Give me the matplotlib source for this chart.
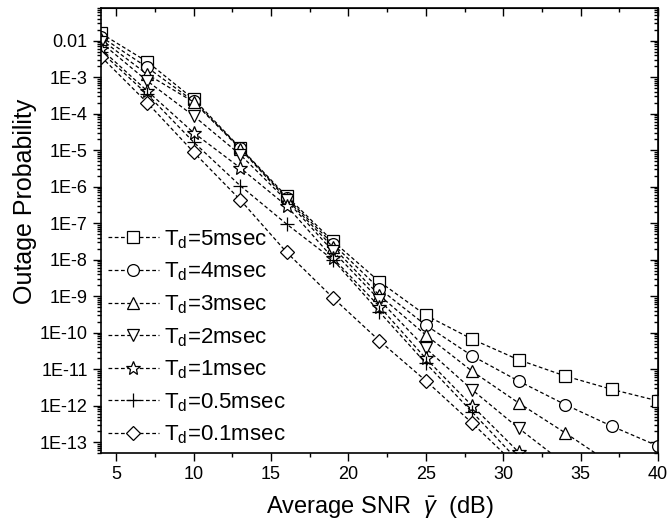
import matplotlib
matplotlib.use("Agg")
import matplotlib.pyplot as plt
from matplotlib.ticker import FixedLocator, FixedFormatter, LogLocator, NullFormatter, MultipleLocator

plt.rcParams['font.family'] = ['Liberation Sans', 'DejaVu Sans']
plt.rcParams['mathtext.fontset'] = 'custom'
plt.rcParams['mathtext.rm'] = 'Liberation Sans'
plt.rcParams['mathtext.it'] = 'Liberation Sans:italic'

# ---- data ----
snr = [4, 7, 10, 13, 16, 19, 22, 25, 28, 31, 34, 37, 40]

td5 = [0.016, 2.66e-3, 2.5e-4, 1.17e-5, 5.5e-7, 3.2e-8, 2.5e-9, 3.0e-10, 6.6e-11, 1.8e-11, 6.5e-12, 2.8e-12, 1.35e-12]
td4 = [0.013, 1.86e-3, 2.2e-4, 1.15e-5, 5.0e-7, 2.7e-8, 1.6e-9, 1.6e-10, 2.3e-11, 4.7e-12, 1.07e-12, 2.75e-13, 7.8e-14]
td3 = [0.011, 1.2e-3, 2.1e-4, 1.1e-5, 4.6e-7, 2.2e-8, 1.05e-9, 8.6e-11, 8.7e-12, 1.18e-12, 1.8e-13, 2.5e-14]
td2 = [0.009, 7.9e-4, 8.7e-5, 7.6e-6, 4.2e-7, 1.7e-8, 7.9e-10, 3.7e-11, 2.7e-12, 2.4e-13, 2.5e-14]
td1 = [0.006, 4.2e-4, 3.0e-5, 3.3e-6, 3.0e-7, 1.1e-8, 5.2e-10, 1.96e-11, 9.8e-13, 5.3e-14]
td05 = [0.005, 3.4e-4, 1.66e-5, 1.07e-6, 9.5e-8, 1.0e-8, 3.7e-10, 1.45e-11, 6.6e-13, 3.0e-14]
td01 = [0.0037, 2.0e-4, 8.8e-6, 4.4e-7, 1.6e-8, 9.0e-10, 6.0e-11, 4.8e-12, 3.3e-13, 2.0e-14]

series = [td5, td4, td3, td2, td1, td05, td01]
labels = ['T$_\\mathregular{d}$=5msec', 'T$_\\mathregular{d}$=4msec', 'T$_\\mathregular{d}$=3msec',
          'T$_\\mathregular{d}$=2msec', 'T$_\\mathregular{d}$=1msec', 'T$_\\mathregular{d}$=0.5msec',
          'T$_\\mathregular{d}$=0.1msec']
markers = ['s', 'o', '^', 'v', '*', '+', 'D']
msizes = [8, 8.5, 9, 9, 10, 10, 7]

ytick_vals = [1e-2, 1e-3, 1e-4, 1e-5, 1e-6, 1e-7, 1e-8, 1e-9, 1e-10, 1e-11, 1e-12, 1e-13]
ytick_labels = ['0.01', '1E-3', '1E-4', '1E-5', '1E-6', '1E-7', '1E-8', '1E-9', '1E-10', '1E-11', '1E-12', '1E-13']
xtick_vals = [5, 10, 15, 20, 25, 30, 35, 40]

# ---- figure ----
fig = plt.figure(figsize=(6.68, 5.22), dpi=100)
ax = fig.add_axes([0.151, 0.132, 0.834, 0.853])

for ys, lab, mk, ms in zip(series, labels, markers, msizes):
    ax.plot(snr[:len(ys)], ys, linestyle=(0, (3, 2)), color='black', linewidth=0.9,
            marker=mk, markersize=ms, markerfacecolor='white', markeredgecolor='black',
            markeredgewidth=0.9, label=lab)

ax.set_yscale('log')
ax.set_xlim(4, 40)
ax.set_ylim(5e-14, 0.08)

ax.yaxis.set_major_locator(FixedLocator(ytick_vals))
ax.yaxis.set_major_formatter(FixedFormatter(ytick_labels))
ax.yaxis.set_minor_locator(LogLocator(base=10, subs=range(2, 10), numticks=30))
ax.yaxis.set_minor_formatter(NullFormatter())
ax.xaxis.set_major_locator(FixedLocator(xtick_vals))
ax.xaxis.set_minor_locator(MultipleLocator(2.5))

ax.tick_params(which='major', direction='out', length=6, width=1, labelsize=13)
ax.tick_params(which='minor', direction='out', length=3, width=1)

# mirrored axes (inward ticks)
axt = ax.secondary_xaxis('top')
axt.xaxis.set_major_locator(FixedLocator(xtick_vals))
axt.xaxis.set_minor_locator(MultipleLocator(2.5))
axt.tick_params(which='major', direction='in', length=6, width=1, labeltop=False)
axt.tick_params(which='minor', direction='in', length=3, width=1)
axr = ax.secondary_yaxis('right')
axr.yaxis.set_major_locator(FixedLocator(ytick_vals))
axr.yaxis.set_minor_locator(LogLocator(base=10, subs=range(2, 10), numticks=30))
axr.yaxis.set_minor_formatter(NullFormatter())
axr.tick_params(which='major', direction='in', length=6, width=1, labelright=False)
axr.tick_params(which='minor', direction='in', length=3, width=1)

for sp in ax.spines.values():
    sp.set_linewidth(1.2)

ax.set_xlabel('Average SNR  $\\bar{\\gamma}$  (dB)', fontsize=17, labelpad=8)
ax.set_ylabel('Outage Probability', fontsize=18)
ax.yaxis.set_label_coords(-0.115, 0.566)

leg = ax.legend(loc='lower left', bbox_to_anchor=(0.0, 0.0), frameon=False, fontsize=16,
                handlelength=2.3, handletextpad=0.25, labelspacing=0.45, borderaxespad=0.1,
                borderpad=0.2)

fig.savefig('out.png', dpi=100)
